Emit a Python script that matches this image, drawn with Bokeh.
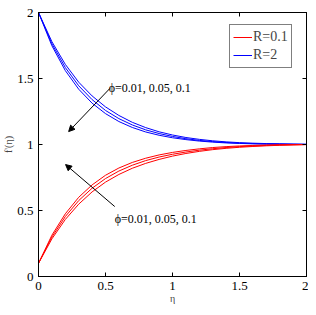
from bokeh.plotting import figure
from bokeh.models import (Range1d, FixedTicker, LinearAxis, Arrow, NormalHead,
                          Label, Legend, LegendItem)
from bokeh.embed import file_html
from bokeh.resources import INLINE

eta = [0.0, 0.1, 0.2, 0.3, 0.4, 0.5, 0.6, 0.7, 0.8, 0.9, 1.0,
       1.1, 1.2, 1.3, 1.4, 1.5, 1.6, 1.7, 1.8, 1.9, 2.0]

# R = 2 (blue), phi = 0.01, 0.05, 0.1
blue_1 = [2.0, 1.779, 1.607, 1.472, 1.368, 1.285, 1.220, 1.168, 1.128, 1.096, 1.072,
          1.053, 1.039, 1.028, 1.020, 1.014, 1.010, 1.007, 1.005, 1.003, 1.002]
blue_2 = [2.0, 1.763, 1.583, 1.445, 1.340, 1.258, 1.196, 1.148, 1.111, 1.083, 1.061,
          1.044, 1.031, 1.022, 1.015, 1.010, 1.007, 1.005, 1.003, 1.002, 1.001]
blue_3 = [2.0, 1.748, 1.560, 1.419, 1.313, 1.234, 1.174, 1.129, 1.095, 1.070, 1.051,
          1.037, 1.026, 1.018, 1.012, 1.008, 1.005, 1.003, 1.002, 1.001, 1.000]

# R = 0.1 (red), phi = 0.01, 0.05, 0.1
red_1 = [0.100, 0.285, 0.432, 0.548, 0.641, 0.715, 0.773, 0.820, 0.857, 0.887, 0.912,
         0.932, 0.948, 0.961, 0.971, 0.979, 0.985, 0.990, 0.994, 0.997, 0.999]
red_2 = [0.100, 0.299, 0.454, 0.575, 0.669, 0.742, 0.799, 0.843, 0.878, 0.905, 0.926,
         0.943, 0.957, 0.968, 0.977, 0.984, 0.989, 0.993, 0.996, 0.998, 1.000]
red_3 = [0.100, 0.313, 0.475, 0.600, 0.694, 0.767, 0.822, 0.864, 0.896, 0.921, 0.940,
         0.955, 0.967, 0.977, 0.984, 0.989, 0.993, 0.996, 0.998, 0.999, 1.000]

ticks = [0, 0.5, 1, 1.5, 2]
tick_labels = ["0", "0.5", "1", "1.5", "2"]

legend_labels = ["R=0.1", "R=2"]
phi_text = "\u03d5=0.01, 0.05, 0.1"

# annotation anchors (data units)
upper_text_xy = (0.524, 1.43)
upper_arrow = (0.532, 1.424, 0.225, 1.098)
lower_text_xy = (0.569, 0.432)
lower_arrow = (0.569, 0.530, 0.202, 0.848)

FONT = "Liberation Serif"

p = figure(width=308, height=306, output_backend="svg", toolbar_location=None,
           x_range=Range1d(0, 2), y_range=Range1d(0, 2),
           min_border_left=31, min_border_right=2, min_border_top=12, min_border_bottom=28,
           x_axis_label="\u03b7", y_axis_label="f'(\u03b7)")
p.grid.visible = False
p.outline_line_color = "black"
p.outline_line_width = 1
p.background_fill_color = "white"
p.border_fill_color = "white"

overrides = {t: l for t, l in zip(ticks, tick_labels)}
for ax in (p.xaxis[0], p.yaxis[0]):
    ax.ticker = FixedTicker(ticks=ticks)
    ax.major_label_overrides = overrides
    ax.major_tick_in = 4
    ax.major_tick_out = 0
    ax.minor_tick_line_color = None
    ax.major_label_text_font = FONT
    ax.major_label_text_font_size = "13px"
    ax.major_label_text_color = "black"
    ax.axis_label_text_font = FONT
    ax.axis_label_text_font_style = "normal"
    ax.axis_label_text_font_size = "10px"
    ax.axis_line_color = "black"
    ax.major_label_standoff = 5
    ax.axis_label_standoff = 0

for loc in ("above", "right"):
    ax = LinearAxis(ticker=FixedTicker(ticks=ticks), major_tick_in=4, major_tick_out=0,
                    minor_tick_line_color=None, major_label_text_font_size="0px",
                    major_label_standoff=0, axis_line_color="black")
    p.add_layout(ax, loc)

r_blue = [p.line(eta, b, line_color="#0000ff", line_width=1) for b in (blue_1, blue_2, blue_3)]
r_red = [p.line(eta, r, line_color="#ff0000", line_width=1) for r in (red_1, red_2, red_3)]

for (tx, ty), (x0, y0, x1, y1) in ((upper_text_xy, upper_arrow), (lower_text_xy, lower_arrow)):
    p.add_layout(Arrow(x_start=x0, y_start=y0, x_end=x1, y_end=y1, line_color="black",
                       line_width=1,
                       end=NormalHead(size=6, fill_color="black", line_color="black")))
    p.add_layout(Label(x=tx, y=ty, text=phi_text, text_font=FONT, text_font_size="12px",
                       text_color="black", text_baseline="alphabetic"))

legend = Legend(items=[LegendItem(label=legend_labels[0], renderers=[r_red[2]]),
                       LegendItem(label=legend_labels[1], renderers=[r_blue[2]])],
                location=(191, 208), label_text_font=FONT, label_text_font_size="14px",
                label_height=18, glyph_height=18, glyph_width=19, label_standoff=1,
                padding=3, spacing=0, margin=0, border_line_color="black",
                border_line_width=1, background_fill_alpha=1.0)
p.add_layout(legend)

open("out.html", "w").write(file_html(p, INLINE))
